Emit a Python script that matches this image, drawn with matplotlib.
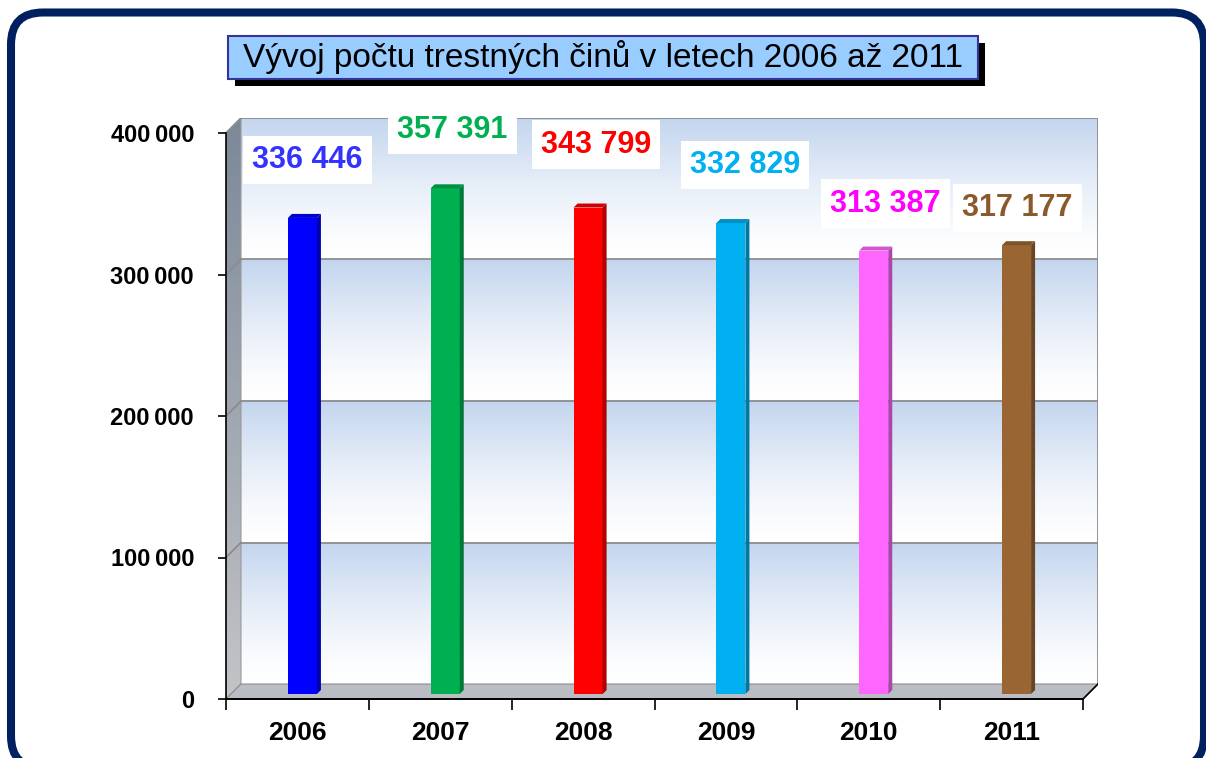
import matplotlib
matplotlib.use("Agg")
import matplotlib.pyplot as plt
import numpy as np
from matplotlib.patches import Polygon, Rectangle, FancyBboxPatch
from matplotlib.transforms import IdentityTransform
from matplotlib.colors import to_rgb

plt.rcParams['font.family'] = ['Liberation Sans', 'DejaVu Sans']

# data
years = ["2006", "2007", "2008", "2009", "2010", "2011"]
crimes = [336446, 357391, 343799, 332829, 313387, 317177]
bar_colors = ["#0000FF", "#00B050", "#FF0000", "#00B0F0", "#FF66FF", "#996633"]
text_colors = ["#3333FF", "#00B050", "#FF0000", "#00B0F0", "#FF00FF", "#8B5A2B"]
y_ticks = [0, 100000, 200000, 300000, 400000]
title = "Vývoj počtu trestných činů v letech 2006 až 2011"

# value label nudges in pixels (right, up) from the bar top
label_nudge = [(10, 58), (12, 58), (13, 63), (19, 58), (17, 47), (6, 37)]

W, H = 1206, 758
fig = plt.figure(figsize=(W / 100, H / 100), dpi=100)
fig.patch.set_facecolor("white")

# front plane of the box in pixels, back wall is pushed 15 px right/up
depth = 15
front_l, front_r, front_b, front_t = 226, 1083, 699, 133
ax = fig.add_axes([front_l / W, (H - front_b) / H,
                   (front_r + depth - front_l) / W, (front_b - front_t + depth) / H])
n = len(years)
ymax = y_ticks[-1]
px_x = n / (front_r - front_l)
px_y = ymax / (front_b - front_t)
dx, dy = depth * px_x, depth * px_y
ax.set_xlim(0, n + dx)
ax.set_ylim(0, ymax + dy)
ax.set_facecolor("none")

#Back wall, gradient repeated in each band
blue = np.array(to_rgb("#C3D5EE"))
white = np.ones(3)
rows = []
for band in range(len(y_ticks) - 1):
    t = np.linspace(0, 1, 120) ** 1.4
    rows.append(white + (blue - white) * t[:, None])
wall = np.concatenate(rows)[:, None, :]
ax.imshow(wall, origin="lower", extent=[dx, n + dx, dy, ymax + dy],
          aspect="auto", interpolation="bilinear", zorder=0)

#Left side wall
side_poly = Polygon([(0, 0), (0, ymax), (dx, ymax + dy), (dx, dy)],
                    closed=True, fc="none", ec="#9a9a9a", lw=0.8, zorder=1)
ax.add_patch(side_poly)
top_c = np.array(to_rgb("#7C8898"))
bot_c = np.array(to_rgb("#C2C4C7"))
t = np.linspace(0, 1, 256)
side_grad = (bot_c + (top_c - bot_c) * t[:, None])[:, None, :]
im = ax.imshow(side_grad, origin="lower", extent=[0, dx, 0, ymax + dy],
               aspect="auto", interpolation="bilinear", zorder=0.5)
im.set_clip_path(side_poly)

#Floor
floor = Polygon([(0, 0), (n, 0), (n + dx, dy), (dx, dy)], closed=True,
                fc="#BABEC4", ec="#8a8d92", lw=0.8, zorder=2)
ax.add_patch(floor)
ax.plot([n, n + dx], [0, dy], color="black", lw=1.2, zorder=2.5)

#Gridlines and wall edges
for v in y_ticks[1:]:
    ax.plot([dx, n + dx], [v + dy, v + dy], color="#8C8C8C", lw=1.3, zorder=1.5)
    ax.plot([0, dx], [v, v + dy], color="#8C8C8C", lw=1.3, zorder=1.5)
ax.plot([n + dx, n + dx], [dy, ymax + dy], color="#8C8C8C", lw=1.3, zorder=1.5)

#Bars
def shade(c, f):
    return tuple(np.array(to_rgb(c)) * f)

off = 5
bw = 29
bd = 4
for i, (v, c) in enumerate(zip(crimes, bar_colors)):
    x0 = i + 0.5 + (off - bw / 2) * px_x
    x1 = x0 + bw * px_x
    y0 = off * px_y
    y1 = v + off * px_y
    ex, ey = bd * px_x, bd * px_y
    ax.add_patch(Rectangle((x0, y0), x1 - x0, y1 - y0, fc=c, ec="none", zorder=4))
    ax.add_patch(Polygon([(x1, y0), (x1, y1), (x1 + ex, y1 + ey), (x1 + ex, y0 + ey)],
                         closed=True, fc=shade(c, 0.68), ec="none", zorder=4))
    ax.add_patch(Polygon([(x0, y1), (x1, y1), (x1 + ex, y1 + ey), (x0 + ex, y1 + ey)],
                         closed=True, fc=shade(c, 0.82), ec="none", zorder=4))

#Value labels
for i, (v, tc) in enumerate(zip(crimes, text_colors)):
    ax.annotate(f"{v:,}".replace(",", " "), xy=(i + 0.5, v + off * px_y),
                xytext=label_nudge[i], textcoords="offset pixels",
                ha="center", va="center", fontsize=22, fontweight="bold", color=tc,
                bbox=dict(boxstyle="square,pad=0.3", fc="white", ec="none"),
                zorder=6, annotation_clip=False)

#Axes
for s in ["top", "right"]:
    ax.spines[s].set_visible(False)
ax.spines["left"].set_bounds(0, ymax)
ax.spines["bottom"].set_bounds(0, n)
ax.spines["left"].set_zorder(7)
ax.spines["bottom"].set_zorder(7)
ax.spines["left"].set_linewidth(1.2)
ax.spines["bottom"].set_linewidth(1.4)

ax.set_yticks(y_ticks)
ax.set_yticklabels([f"{v:,}".replace(",", "\u2009") for v in y_ticks],
                   fontsize=17, fontweight="bold")
ax.tick_params(axis="y", length=6, width=1.2, pad=17)

ax.set_xticks(range(n + 1))
ax.set_xticklabels([])
ax.set_xticks([i + 0.5 for i in range(n)], minor=True)
ax.set_xticklabels(years, minor=True, fontsize=19, fontweight="bold")
ax.tick_params(axis="x", which="major", length=8, width=1.2)
ax.tick_params(axis="x", which="minor", length=0, pad=16)

#Title box with shadow
fig.add_artist(Rectangle((235, H - 86), 750, 43, fc="black", ec="none",
                         transform=IdentityTransform()))
fig.add_artist(Rectangle((228, H - 79), 750, 43, fc="#99CCFF", ec="#333399", lw=1.5,
                         transform=IdentityTransform()))
fig.text(603 / W, (H - 57.5) / H, title, fontsize=24, ha="center", va="center",
         color="black")

#Rounded outer frame
fig.add_artist(FancyBboxPatch((11, -10), 1193, 755.5,
                              boxstyle="round,pad=0,rounding_size=32",
                              fill=False, ec="#002060", lw=5.8,
                              transform=IdentityTransform()))

fig.savefig("out.png", dpi=100)
